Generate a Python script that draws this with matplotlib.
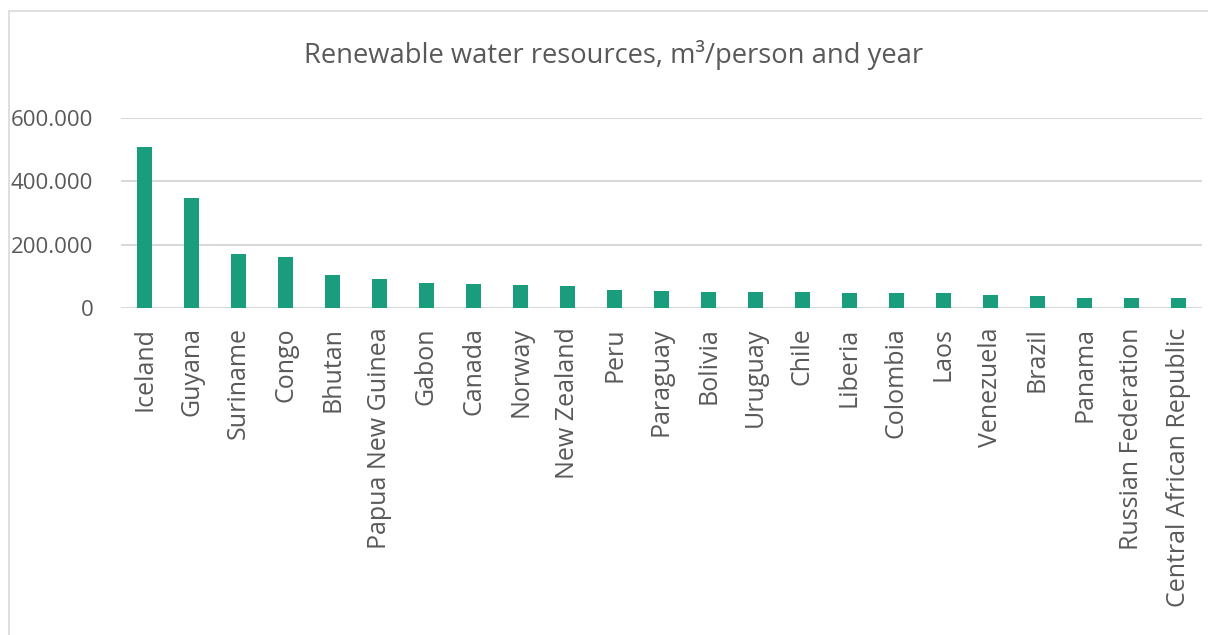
import matplotlib
matplotlib.use("Agg")
import matplotlib.pyplot as plt
from matplotlib.patches import Rectangle
from matplotlib.ticker import FuncFormatter

countries = [
    "Iceland", "Guyana", "Suriname", "Congo", "Bhutan", "Papua New Guinea",
    "Gabon", "Canada", "Norway", "New Zealand", "Peru", "Paraguay", "Bolivia",
    "Uruguay", "Chile", "Liberia", "Colombia", "Laos", "Venezuela", "Brazil",
    "Panama", "Russian Federation", "Central African Republic",
]
water_m3 = [
    507000, 348000, 172000, 162000, 103000, 93000,
    78000, 77000, 72000, 68000, 58000, 54000, 49000,
    49000, 49000, 46500, 46000, 46000, 42500, 39000,
    33000, 30000, 30000,
]
y_ticks = [0, 200000, 400000, 600000]

TEXT = "#595959"
GRID = "#d9d9d9"
BAR = "#1a9d7d"

plt.rcParams["font.family"] = ["Open Sans", "DejaVu Sans"]

W, H = 1208, 635
fig = plt.figure(figsize=(W / 100, H / 100), dpi=100)

# chart frame (only left and top edge visible in the crop)
fig.patches.append(Rectangle((9 / W, -0.1), 1.2, 1.1 - 11 / H, transform=fig.transFigure,
                             fill=False, edgecolor=GRID, linewidth=1.2))

ax = fig.add_axes([121 / W, 1 - 308 / H, (1202 - 121) / W, (308 - 118) / H])
x = range(len(countries))
ax.bar(x, water_m3, width=0.32, color=BAR, zorder=3)

ax.set_xlim(-0.5, len(countries) - 0.5)
ax.set_ylim(0, 600000)
ax.set_yticks(y_ticks)
ax.yaxis.set_major_formatter(FuncFormatter(lambda v, _: f"{int(v):,}".replace(",", ".")))
ax.set_xticks(list(x))
ax.set_xticklabels(countries, rotation=90, fontsize=18, color=TEXT)
ax.tick_params(axis="y", labelsize=16, labelcolor=TEXT, length=0, pad=20)
ax.tick_params(axis="x", length=0, pad=14)
ax.grid(axis="y", color=GRID, linewidth=1.5, zorder=0)
for s in ax.spines.values():
    s.set_visible(False)

fig.text(614 / W, 1 - 55 / H, "Renewable water resources, m³/person and year",
         ha="center", va="center", fontsize=19.7, color=TEXT)

fig.savefig("out.png", dpi=100)
